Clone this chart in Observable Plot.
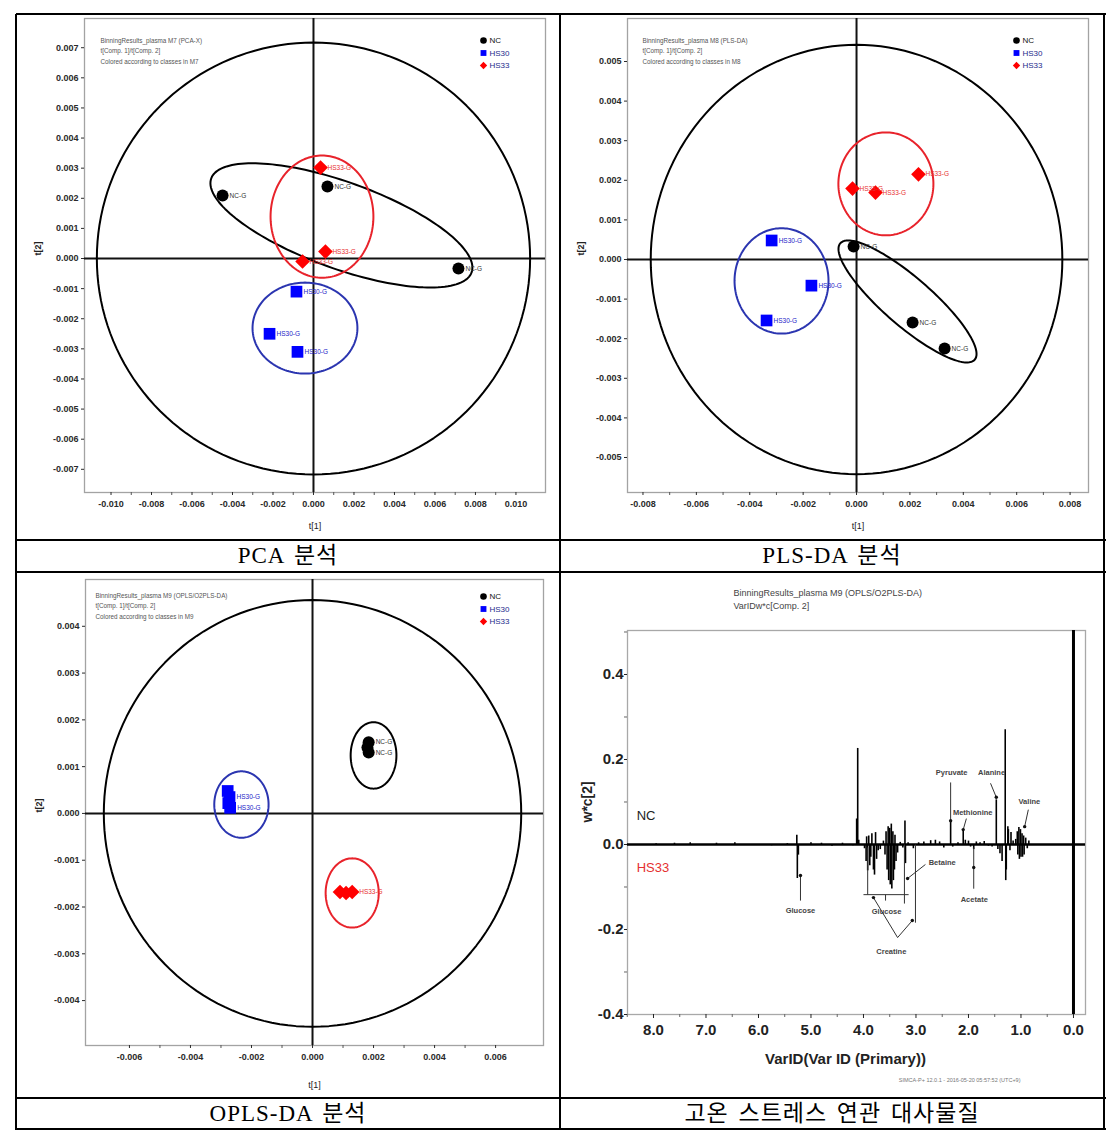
<!DOCTYPE html>
<html>
<head>
<meta charset="utf-8">
<script src="https://cdn.jsdelivr.net/npm/d3@7"></script>
<script src="https://cdn.jsdelivr.net/npm/@observablehq/plot@0.6"></script>
<style>
  html,body{margin:0;padding:0;background:#fff;}
  #page{position:relative;width:1118px;height:1139px;background:#fff;overflow:hidden;}
  .hl{position:absolute;height:1.5px;background:#000;}
  .vl{position:absolute;width:1.5px;background:#000;}
  .cap{position:absolute;text-align:center;font-family:"Liberation Serif","Noto Sans CJK KR",serif;font-size:23px;line-height:30px;color:#000;letter-spacing:1px;word-spacing:3px;}
  .panel{position:absolute;width:542px;height:524px;}
  .panel svg{display:block;}
</style>
</head>
<body>
<div id="page"></div>
<script>
// ================= DATA =================
const classNames = ["NC", "HS30", "HS33"];
const classColors = ["#000000", "#0000ff", "#ff0000"];
const ellipseColors = ["#000000", "#2b35b0", "#e8232b"];
const labelColors = ["#333333", "#2323c8", "#e83030"];
const legendTextColors = ["#111111", "#1c2a8c", "#1c2a8c"];
const classSymbols = ["circle", "square", "diamond2"];

// PCA scores t[1], t[2]
const pcaClass = ["NC", "NC", "NC", "HS33", "HS33", "HS33", "HS30", "HS30", "HS30"];
const pcaT1 = [-0.00449, 0.00069, 0.00716, 0.00035, 0.00059, -0.00054, -0.00084, -0.00217, -0.00079];
const pcaT2 = [0.00209, 0.00239, -0.00033, 0.00302, 0.00023, -0.00010, -0.00110, -0.00250, -0.00310];
const pcaLabel = ["NC-G", "NC-G", "NC-G", "HS33-G", "HS33-G", "HS33-G", "HS30-G", "HS30-G", "HS30-G"];

// PLS-DA scores
const plsClass = ["NC", "NC", "NC", "HS33", "HS33", "HS33", "HS30", "HS30", "HS30"];
const plsT1 = [-0.00011, 0.00210, 0.00330, -0.00015, 0.00071, 0.00232, -0.00318, -0.00169, -0.00337];
const plsT2 = [0.00033, -0.00159, -0.00225, 0.00179, 0.00169, 0.00215, 0.00048, -0.00066, -0.00154];
const plsLabel = ["NC-G", "NC-G", "NC-G", "HS33-G", "HS33-G", "HS33-G", "HS30-G", "HS30-G", "HS30-G"];

// OPLS-DA scores (labels overlap in the original; one label per visible row)
const oplsClass = ["NC", "NC", "NC", "HS33", "HS33", "HS33", "HS30", "HS30", "HS30", "HS30"];
const oplsT1 = [0.00184, 0.00180, 0.00184, 0.00090, 0.00110, 0.00130, -0.00278, -0.00272, -0.00276, -0.00270];
const oplsT2 = [0.00152, 0.00141, 0.00130, -0.00168, -0.00170, -0.00168, 0.00048, 0.00035, 0.00022, 0.00012];
const oplsLabel = ["NC-G", "", "NC-G", "", "", "HS33-G", "", "HS30-G", "", "HS30-G"];

// Ellipses: centre (cx, cy) + cos(t)*(ax, ay) + sin(t)*(bx, by); k = class index, -1 = Hotelling T2
const pcaEllipses = [
  {k: -1, cx: 0, cy: 0, ax: 0.0107, ay: 0, bx: 0, by: 0.00717},
  {k: 0, cx: 0.00138, cy: 0.0011, ax: 0.00643, ay: -0.00156, bx: -0.00072, by: -0.00135},
  {k: 2, cx: 0.00042, cy: 0.00139, ax: 0.00254, ay: 0, bx: 0, by: 0.00203},
  {k: 1, cx: -0.00042, cy: -0.00231, ax: 0.00259, ay: 0, bx: 0, by: 0.00151}
];
const plsEllipses = [
  {k: -1, cx: 0, cy: 0, ax: 0.00771, ay: 0, bx: 0, by: 0.00542},
  {k: 0, cx: 0.00191, cy: -0.00106, ax: 0.002517, ay: -0.00147, bx: -0.000592, by: -0.00046},
  {k: 2, cx: 0.0011, cy: 0.00191, ax: 0.00178, ay: 0, bx: 0, by: 0.0013},
  {k: 1, cx: -0.00281, cy: -0.00054, ax: 0.00176, ay: 0, bx: 0, by: 0.00133}
];
const oplsEllipses = [
  {k: -1, cx: 0, cy: 0, ax: 0.00684, ay: 0, bx: 0, by: 0.00456},
  {k: 0, cx: 0.002, cy: 0.00124, ax: 0.00075, ay: 0, bx: 0, by: 0.00071},
  {k: 2, cx: 0.0013, cy: -0.0017, ax: 0.00087, ay: 0, bx: 0, by: 0.00074},
  {k: 1, cx: -0.00233, cy: 0.00019, ax: 0.00089, ay: 0, bx: 0, by: 0.00071}
];

// Axis ticks
const pcaXTicks = [-0.010, -0.008, -0.006, -0.004, -0.002, 0, 0.002, 0.004, 0.006, 0.008, 0.010];
const pcaYTicks = [-0.007, -0.006, -0.005, -0.004, -0.003, -0.002, -0.001, 0, 0.001, 0.002, 0.003, 0.004, 0.005, 0.006, 0.007];
const plsXTicks = [-0.008, -0.006, -0.004, -0.002, 0, 0.002, 0.004, 0.006, 0.008];
const plsYTicks = [-0.005, -0.004, -0.003, -0.002, -0.001, 0, 0.001, 0.002, 0.003, 0.004, 0.005];
const oplsXTicks = [-0.006, -0.004, -0.002, 0, 0.002, 0.004, 0.006];
const oplsYTicks = [-0.004, -0.003, -0.002, -0.001, 0, 0.001, 0.002, 0.003, 0.004];

// Loadings w*c[2] (ppm, value)
const specPpm = [7.95, 7.60, 7.30, 7.05, 6.80, 6.45, 6.10, 5.75, 5.45, 5.27, 5.26, 5.24, 5.00, 4.80, 4.60, 4.40, 4.20,
  4.13, 4.11, 4.09, 3.98, 3.95, 3.94, 3.92, 3.90, 3.88, 3.86, 3.84, 3.81, 3.79, 3.77, 3.75, 3.72, 3.68,
  3.62, 3.59, 3.57, 3.55, 3.53, 3.52, 3.50, 3.49, 3.47, 3.46, 3.44, 3.43, 3.41, 3.40, 3.38, 3.35, 3.30, 3.25,
  3.21, 3.20, 3.15, 3.05, 2.95, 2.85, 2.72, 2.63, 2.55, 2.47, 2.34, 2.30, 2.20, 2.10, 2.06, 2.00, 1.96, 1.90,
  1.85, 1.78, 1.70, 1.62, 1.55, 1.47, 1.44, 1.40, 1.36, 1.30, 1.29, 1.28, 1.25, 1.24, 1.21, 1.19, 1.15,
  1.10, 1.07, 1.06, 1.04, 1.03, 1.01, 1.00, 0.98, 0.97, 0.95, 0.94, 0.91, 0.88, 0.85];
const specW = [0.002, 0.003, 0.004, -0.002, 0.003, 0.004, -0.002, -0.003, 0.002, 0.022, -0.080, -0.025, 0.004, 0.003, -0.004, 0.003, -0.003,
  0.060, 0.226, 0.010, -0.010, -0.040, 0.018, -0.062, 0.020, -0.050, -0.030, 0.025, -0.060, -0.072, 0.028, -0.035, -0.015, -0.012,
  0.008, -0.025, 0.030, -0.060, 0.042, -0.085, 0.038, -0.095, 0.048, -0.105, 0.030, -0.085, -0.060, 0.022, -0.040, -0.020, 0.005, -0.008,
  0.055, -0.045, 0.004, -0.010, 0.004, 0.006, 0.009, 0.010, 0.006, -0.008, 0.056, -0.006, 0.004, 0.035, 0.010, 0.008, -0.006, -0.012,
  0.006, 0.004, 0.007, -0.004, -0.006, 0.105, -0.012, -0.022, -0.040, 0.270, -0.085, -0.060, 0.042, 0.035, -0.015, 0.028, 0.008,
  0.012, 0.030, -0.025, 0.040, -0.035, 0.035, -0.030, 0.025, -0.030, 0.020, -0.025, 0.015, -0.010, 0.008];
const vTicks = [8, 7, 6, 5, 4, 3, 2, 1, 0];
const vMinor = [8.5, 7.5, 6.5, 5.5, 4.5, 3.5, 2.5, 1.5, 0.5];
const wTicks = [-0.4, -0.2, 0, 0.2, 0.4];
const wMinor = [-0.3, -0.1, 0.1, 0.3, 0.5];

// Annotations (ppm, value)
const annoLabels = ["Pyruvate", "Alanine", "Methionine", "Valine", "Betaine", "Acetate", "Glucose", "Glucose", "Creatine"];
const annoPpm = [2.32, 1.56, 1.92, 0.84, 2.50, 1.89, 5.20, 3.56, 3.47];
const annoW = [0.169, 0.169, 0.075, 0.101, -0.042, -0.129, -0.155, -0.158, -0.252];
const annoSegments = [
  [2.34, 0.146, 2.34, 0.056], [1.58, 0.144, 1.47, 0.111], [2.04, 0.061, 2.10, 0.035], [0.86, 0.082, 0.93, 0.042],
  [2.82, -0.047, 3.16, -0.080], [1.90, -0.007, 1.90, -0.104], [5.20, -0.073, 5.20, -0.132],
  [4.00, -0.118, 3.14, -0.118], [3.92, -0.007, 3.92, -0.118], [3.22, 0, 3.22, -0.139], [3.58, -0.118, 3.58, -0.132],
  [3.81, -0.125, 3.35, -0.219], [3.35, -0.219, 3.07, -0.179], [3.01, 0, 3.01, -0.184]
];
const annoDots = [[2.34, 0.056], [1.47, 0.111], [2.10, 0.035], [0.93, 0.042], [3.16, -0.080], [1.90, -0.054], [5.20, -0.073], [3.81, -0.125], [3.07, -0.179]];

// ================= DRAWING =================
const page = document.getElementById("page");
const FONT = "Liberation Sans, Arial, Helvetica, sans-serif";

function ellipsePts(e) {
  const out = [];
  for (let j = 0; j <= 160; j++) {
    const t = 2 * Math.PI * j / 160;
    out.push([e.cx + Math.cos(t) * e.ax + Math.sin(t) * e.bx, e.cy + Math.cos(t) * e.ay + Math.sin(t) * e.by]);
  }
  return out;
}

function scatter(o) {
  const pts = o.cls.map((c, i) => ({c, x: o.t1[i], y: o.t2[i], lab: o.lab[i]}));
  const fmt = d => (Math.abs(d) < 1e-12 ? 0 : d).toFixed(3);
  const marks = [
    Plot.frame({stroke: "#a3a3a3", strokeWidth: 1.3}),
    Plot.axisX({ticks: o.xTicks, tickFormat: fmt, tickSize: 3, tickPadding: 5, fontSize: 9, fontWeight: "bold", color: "#2a2a2a", label: null}),
    Plot.axisX({ticks: o.xTicks.slice(0, -1).map((v, i) => (v + o.xTicks[i + 1]) / 2), tickFormat: () => "", tickSize: 3, color: "#555", label: null}),
    Plot.axisY({ticks: o.yTicks, tickFormat: fmt, tickSize: 3, tickPadding: 3, fontSize: 9, fontWeight: "bold", color: "#2a2a2a", label: null}),
    Plot.ruleX([0], {stroke: "#111", strokeWidth: 2}),
    Plot.ruleY([0], {stroke: "#111", strokeWidth: 2})
  ];
  o.ellipses.forEach(e => marks.push(Plot.line(ellipsePts(e), {
    x: d => d[0], y: d => d[1], stroke: e.k < 0 ? "#000" : ellipseColors[e.k], strokeWidth: 2
  })));
  classNames.forEach((c, k) => {
    const sub = pts.filter(p => p.c === c);
    marks.push(Plot.dot(sub, {x: "x", y: "y", symbol: classSymbols[k], r: k === 0 ? 6 : 6.6, fill: classColors[k], stroke: "none"}));
    marks.push(Plot.text(sub.filter(p => p.lab), {x: "x", y: "y", text: "lab", dx: 7, textAnchor: "start", fontSize: 6.5, fill: labelColors[k]}));
    // legend
    marks.push(Plot.dot([c], {frameAnchor: "top-right", dx: o.legDx, dy: o.legDy + k * 12.5, symbol: classSymbols[k], r: 3.3, fill: classColors[k]}));
    marks.push(Plot.text([c], {frameAnchor: "top-right", dx: o.legDx + 6, dy: o.legDy + k * 12.5, text: d => d, textAnchor: "start", lineAnchor: "middle", fontSize: 8, fill: legendTextColors[k]}));
  });
  o.header.forEach((h, i) => marks.push(Plot.text([h], {frameAnchor: "top-left", dx: o.hdDx, dy: o.hdDy + i * 10.5, text: d => d, textAnchor: "start", lineAnchor: "middle", fontSize: 6.3, fill: "#555"})));
  marks.push(Plot.text(["t[1]"], {frameAnchor: "bottom", dy: o.xLabDy, text: d => d, fontSize: 9, fill: "#222"}));
  marks.push(Plot.text(["t[2]"], {frameAnchor: "left", dx: -46, text: d => d, rotate: -90, fontSize: 9, fontWeight: "bold", fill: "#222"}));
  return Plot.plot({
    width: 542, height: 524,
    marginLeft: o.m[0], marginRight: o.m[1], marginTop: o.m[2], marginBottom: o.m[3],
    x: {domain: o.xDomain}, y: {domain: o.yDomain},
    style: {background: "transparent", fontFamily: FONT, overflow: "visible"},
    marks
  });
}

function place(el, left, top) {
  const d = document.createElement("div");
  d.className = "panel";
  d.style.left = left + "px";
  d.style.top = top + "px";
  d.appendChild(el);
  page.appendChild(d);
}

place(scatter({
  cls: pcaClass, t1: pcaT1, t2: pcaT2, lab: pcaLabel, ellipses: pcaEllipses,
  xTicks: pcaXTicks, yTicks: pcaYTicks,
  xDomain: [-0.01131, 0.01146], yDomain: [-0.00777, 0.00797],
  m: [67, 14, 3, 47], legDx: -62, legDy: 22, hdDx: 16, hdDy: 22, xLabDy: 36,
  header: ["BinningResults_plasma M7 (PCA-X)", "t[Comp. 1]/t[Comp. 2]", "Colored according to classes in M7"]
}), 17, 15);

place(scatter({
  cls: plsClass, t1: plsT1, t2: plsT2, lab: plsLabel, ellipses: plsEllipses,
  xTicks: plsXTicks, yTicks: plsYTicks,
  xDomain: [-0.00858, 0.00869], yDomain: [-0.005884, 0.006086],
  m: [66, 15, 3, 47], legDx: -72, legDy: 22, hdDx: 15, hdDy: 22, xLabDy: 36,
  header: ["BinningResults_plasma M8 (PLS-DA)", "t[Comp. 1]/t[Comp. 2]", "Colored according to classes in M8"]
}), 561, 15);

place(scatter({
  cls: oplsClass, t1: oplsT1, t2: oplsT2, lab: oplsLabel, ellipses: oplsEllipses,
  xTicks: oplsXTicks, yTicks: oplsYTicks,
  xDomain: [-0.00744, 0.00757], yDomain: [-0.00496, 0.0050],
  m: [68, 16, 6, 52], legDx: -60, legDy: 17, hdDx: 10, hdDy: 16, xLabDy: 42,
  header: ["BinningResults_plasma M9 (OPLS/O2PLS-DA)", "t[Comp. 1]/t[Comp. 2]", "Colored according to classes in M9"]
}), 17, 573);

// Loadings panel
const spec = specPpm.map((p, i) => ({p, w: specW[i]}));
const annoText = annoLabels.map((t, i) => ({t, p: annoPpm[i], w: annoW[i]}));
const p4 = Plot.plot({
  width: 542, height: 524,
  marginLeft: 66, marginRight: 18, marginTop: 57, marginBottom: 83,
  x: {domain: [8.495, -0.229]},
  y: {domain: [-0.4, 0.5035]},
  style: {background: "transparent", fontFamily: FONT, overflow: "visible"},
  marks: [
    Plot.frame({stroke: "#a8a8a8", strokeWidth: 1.3}),
    Plot.axisX({ticks: vTicks, tickFormat: d => d.toFixed(1), tickSize: 4, tickPadding: 6, fontSize: 15, fontWeight: "bold", color: "#222", label: null}),
    Plot.axisX({ticks: vMinor, tickFormat: () => "", tickSize: 3, color: "#666", label: null}),
    Plot.axisY({ticks: wTicks, tickFormat: d => d.toFixed(1), tickSize: 3, tickPadding: 1, fontSize: 15, fontWeight: "bold", color: "#222", label: null}),
    Plot.axisY({ticks: wMinor, tickFormat: () => "", tickSize: 3, color: "#666", label: null}),
    Plot.ruleX([0], {stroke: "#000", strokeWidth: 3}),
    Plot.ruleX(spec, {x: "p", y1: 0, y2: "w", stroke: "#000", strokeWidth: 1.6}),
    Plot.ruleY([0], {stroke: "#000", strokeWidth: 2.6}),
    Plot.link(annoSegments, {x1: d => d[0], y1: d => d[1], x2: d => d[2], y2: d => d[3], stroke: "#333", strokeWidth: 1}),
    Plot.dot(annoDots, {x: d => d[0], y: d => d[1], r: 1.7, fill: "#111"}),
    Plot.text(annoText, {x: "p", y: "w", text: "t", fontSize: 7.5, fontWeight: "bold", fill: "#444"}),
    Plot.text(["NC"], {x: 8.32, y: 0.068, text: d => d, textAnchor: "start", fontSize: 13, fill: "#222"}),
    Plot.text(["HS33"], {x: 8.32, y: -0.056, text: d => d, textAnchor: "start", fontSize: 13, fill: "#e53030"}),
    Plot.text(["BinningResults_plasma M9 (OPLS/O2PLS-DA)"], {frameAnchor: "top-left", dx: 106, dy: -37, text: d => d, textAnchor: "start", lineAnchor: "middle", fontSize: 9, fill: "#444"}),
    Plot.text(["VarIDw*c[Comp. 2]"], {frameAnchor: "top-left", dx: 106, dy: -24, text: d => d, textAnchor: "start", lineAnchor: "middle", fontSize: 9, fill: "#444"}),
    Plot.text(["VarID(Var ID (Primary))"], {frameAnchor: "bottom", dx: -11, dy: 49, text: d => d, fontSize: 15, fontWeight: "bold", fill: "#222"}),
    Plot.text(["w*c[2]"], {frameAnchor: "left", dx: -40, text: d => d, rotate: -90, fontSize: 14, fontWeight: "bold", fill: "#222"}),
    Plot.text(["SIMCA-P+ 12.0.1 - 2016-05-20 05:57:52 (UTC+9)"], {frameAnchor: "bottom-right", dx: -65, dy: 67, text: d => d, textAnchor: "end", fontSize: 5.5, fill: "#777"})
  ]
});
place(p4, 561, 573);

// Table lines and captions
function hl(y) { const d = document.createElement("div"); d.className = "hl"; d.style.left = "16px"; d.style.top = (y - 0.75) + "px"; d.style.width = "1089.5px"; page.appendChild(d); }
function vl(x) { const d = document.createElement("div"); d.className = "vl"; d.style.top = "14px"; d.style.left = (x - 0.75) + "px"; d.style.height = "1116px"; page.appendChild(d); }
[14, 540, 572, 1098, 1129].forEach(hl);
[16, 560, 1104].forEach(vl);
const captions = ["PCA 분석", "PLS-DA 분석", "OPLS-DA 분석", "고온 스트레스 연관 대사물질"];
const capPos = [[16, 541], [560, 541], [16, 1099], [560, 1099]];
captions.forEach((t, i) => {
  const d = document.createElement("div");
  d.className = "cap";
  d.style.left = capPos[i][0] + "px";
  d.style.top = capPos[i][1] + "px";
  d.style.width = "544px";
  d.textContent = t;
  page.appendChild(d);
});
</script>
</body>
</html>
